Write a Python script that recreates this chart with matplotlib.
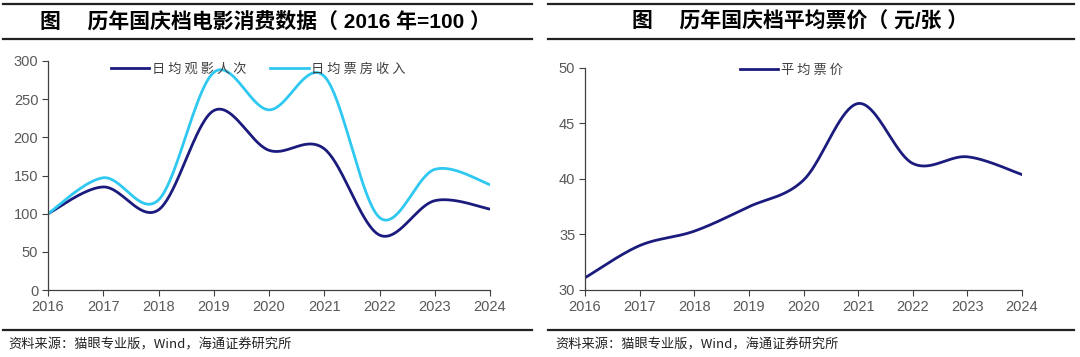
import numpy as np
import matplotlib
matplotlib.use("Agg")
import matplotlib.pyplot as plt
from matplotlib.lines import Line2D

plt.rcParams["font.family"] = ["Liberation Sans", "Noto Sans CJK SC", "DejaVu Sans"]

NAVY = "#1b1b7d"
CYAN = "#2fc8f0"
TICK = "#595959"

years = [2016, 2017, 2018, 2019, 2020, 2021, 2022, 2023, 2024]
admissions = [100, 135, 105, 235, 183, 185, 72, 117, 106]
box_office = [100, 147, 118, 285, 236, 280, 95, 158, 138]
avg_price = [31.1, 34.0, 35.3, 37.5, 39.9, 46.8, 41.4, 42.0, 40.4]


def smooth(xs, ys, n=40):
    # excel-like smoothed line (catmull-rom as cubic bezier)
    p = np.column_stack([xs, ys]).astype(float)
    pad = np.vstack([p[0], p, p[-1]])
    t = np.linspace(0, 1, n)[:, None]
    out = []
    for i in range(len(p) - 1):
        p0, p3 = pad[i + 1], pad[i + 2]
        c1 = p0 + (pad[i + 2] - pad[i]) / 6.0
        c2 = p3 - (pad[i + 3] - pad[i + 1]) / 6.0
        seg = (1 - t) ** 3 * p0 + 3 * (1 - t) ** 2 * t * c1 + 3 * (1 - t) * t ** 2 * c2 + t ** 3 * p3
        out.append(seg if i == 0 else seg[1:])
    out = np.vstack(out)
    return out[:, 0], out[:, 1]


def style_axes(ax):
    for s in ["top", "right"]:
        ax.spines[s].set_visible(False)
    for s in ["left", "bottom"]:
        ax.spines[s].set_color("#404040")
        ax.spines[s].set_linewidth(0.9)
    ax.tick_params(direction="out", length=4, width=0.8, color="#404040",
                   labelcolor=TICK, labelsize=10.5, pad=3)
    ax.set_xticks(years)
    ax.set_xlim(years[0], years[-1])


def spaced(s):
    return " ".join(s)


W, H = 1080, 357
fig = plt.figure(figsize=(W / 100, H / 100), dpi=100)


def px(x0, y_top, x1, y_bot):
    return [x0 / W, 1 - y_bot / H, (x1 - x0) / W, (y_bot - y_top) / H]


CJK = ["Noto Sans CJK SC", "DejaVu Sans"]
TITLE = ["Liberation Sans", "Noto Sans CJK SC", "DejaVu Sans"]

# frames: rules and titles
for a, b in [(3, 532), (548, 1074)]:
    for yy, lw in [(4, 1.6), (38.5, 1.6), (330, 1.6)]:
        fig.add_artist(Line2D([a / W, b / W], [1 - yy / H] * 2, color="#222222", lw=lw))

fig.text(40 / W, 1 - 21 / H, "图\u3000 历年国庆档电影消费数据（ 2016 年=100 ）",
         ha="left", va="center", fontsize=15, fontweight="bold", family=TITLE)
fig.text(632 / W, 1 - 21 / H, "图\u3000 历年国庆档平均票价（ 元/张 ）",
         ha="left", va="center", fontsize=15, fontweight="bold", family=TITLE)
for x0 in [8, 555]:
    fig.text(x0 / W, 1 - 345 / H, "资料来源：猫眼专业版，Wind，海通证券研究所",
             ha="left", va="center", fontsize=9.5, color="#222222", family=CJK)

# left chart
ax1 = fig.add_axes(px(48, 61, 490, 290))
sx, sy = smooth(years, admissions)
ax1.plot(sx, sy, color=NAVY, lw=2, label=spaced("日均观影人次"))
sx, sy = smooth(years, box_office)
ax1.plot(sx, sy, color=CYAN, lw=2, label=spaced("日均票房收入"))
style_axes(ax1)
ax1.set_ylim(0, 300)
ax1.set_yticks(range(0, 301, 50))
leg = ax1.legend(loc="center", bbox_to_anchor=(0.476, 0.965), ncol=2, frameon=False,
                 handlelength=2.9, columnspacing=1.8, handletextpad=0.2,
                 prop={"family": "Noto Sans CJK SC", "size": 9.5})
for t in leg.get_texts():
    t.set_color("#404040")

# right chart
ax2 = fig.add_axes(px(585, 68, 1022, 290))
sx, sy = smooth(years, avg_price)
ax2.plot(sx, sy, color=NAVY, lw=2, label=spaced("平均票价"))
style_axes(ax2)
ax2.set_ylim(30, 50)
ax2.set_yticks(range(30, 51, 5))
leg = ax2.legend(loc="center", bbox_to_anchor=(0.472, 0.99), frameon=False,
                 handlelength=2.9, handletextpad=0.2,
                 prop={"family": "Noto Sans CJK SC", "size": 9.5})
for t in leg.get_texts():
    t.set_color("#404040")

fig.savefig("out.png", dpi=100)
